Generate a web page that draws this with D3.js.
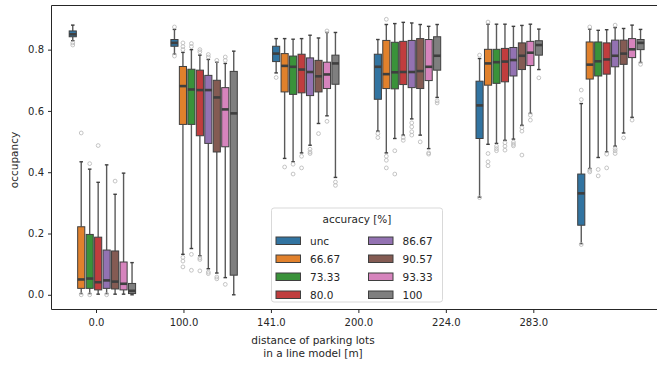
<!DOCTYPE html>
<html>
<head>
<meta charset="utf-8">
<script src="https://cdn.jsdelivr.net/npm/d3@7"></script>
<style>
  body { margin: 0; background: #fff; }
  svg text { font-family: "DejaVu Sans", sans-serif; fill: #262626; }
</style>
</head>
<body>
<div id="chart"></div>
<script>
// categories on the x axis and the hue levels
var distances = ['0.0', '100.0', '141.0', '200.0', '224.0', '283.0'];
var accuracies = ['unc', '66.67', '73.33', '80.0', '86.67', '90.57', '93.33', '100'];
var hueColors = ['#3274a1', '#e1812c', '#3a923a', '#c03d3e', '#9372b2', '#845b53', '#d684bd', '#7f7f7f'];
var yTicks = [0.0, 0.2, 0.4, 0.6, 0.8];

// box statistics, one row per distance, one value per accuracy level
var whiskerLow = [
	[0.829, 0.004, 0.004, 0.002, 0.004, 0.002, 0.002, 0.0],
	[0.785, 0.132, 0.151, 0.127, 0.085, 0.071, 0.056, 0.0],
	[0.724, 0.445, 0.434, 0.463, 0.488, 0.559, 0.584, 0.383],
	[0.534, 0.463, 0.510, 0.521, 0.574, 0.521, 0.477, 0.644],
	[0.319, 0.491, 0.494, 0.504, 0.508, 0.553, 0.592, 0.735],
	[0.167, 0.412, 0.448, 0.466, 0.485, 0.528, 0.579, 0.758]
];
var q1 = [
	[0.842, 0.021, 0.021, 0.016, 0.021, 0.019, 0.016, 0.004],
	[0.811, 0.556, 0.556, 0.519, 0.494, 0.466, 0.483, 0.064],
	[0.761, 0.662, 0.654, 0.659, 0.650, 0.662, 0.673, 0.687],
	[0.638, 0.673, 0.672, 0.686, 0.676, 0.673, 0.699, 0.733],
	[0.510, 0.684, 0.690, 0.695, 0.714, 0.735, 0.748, 0.782],
	[0.227, 0.704, 0.714, 0.720, 0.744, 0.752, 0.774, 0.800]
];
var medians = [
	[0.850, 0.050, 0.053, 0.041, 0.047, 0.043, 0.036, 0.013],
	[0.822, 0.681, 0.670, 0.668, 0.668, 0.644, 0.605, 0.592],
	[0.787, 0.747, 0.744, 0.735, 0.727, 0.713, 0.719, 0.755],
	[0.744, 0.720, 0.726, 0.727, 0.727, 0.730, 0.744, 0.780],
	[0.618, 0.755, 0.759, 0.761, 0.766, 0.780, 0.790, 0.815],
	[0.331, 0.751, 0.762, 0.768, 0.780, 0.787, 0.801, 0.822]
];
var q3 = [
	[0.861, 0.222, 0.197, 0.188, 0.146, 0.143, 0.107, 0.037],
	[0.833, 0.745, 0.736, 0.733, 0.716, 0.700, 0.676, 0.729],
	[0.811, 0.787, 0.779, 0.785, 0.773, 0.765, 0.759, 0.782],
	[0.785, 0.830, 0.824, 0.827, 0.830, 0.836, 0.833, 0.842],
	[0.697, 0.801, 0.801, 0.804, 0.807, 0.822, 0.827, 0.829],
	[0.394, 0.825, 0.825, 0.822, 0.831, 0.831, 0.836, 0.833]
];
var whiskerHigh = [
	[0.880, 0.434, 0.410, 0.367, 0.424, 0.328, 0.397, 0.105],
	[0.866, 0.791, 0.800, 0.782, 0.768, 0.759, 0.755, 0.795],
	[0.836, 0.836, 0.834, 0.836, 0.847, 0.838, 0.856, 0.856],
	[0.833, 0.882, 0.885, 0.889, 0.887, 0.882, 0.876, 0.882],
	[0.771, 0.883, 0.883, 0.883, 0.876, 0.879, 0.883, 0.867],
	[0.624, 0.867, 0.863, 0.865, 0.872, 0.869, 0.880, 0.866]
];
var fliers = [
	[[0.822, 0.815], [0.528, 0.0], [0.428, 0.0], [0.487], [0.0], [0.371], [], []],
	[[0.874, 0.779], [0.822, 0.810, 0.800, 0.122, 0.110, 0.091], [0.820, 0.810, 0.132, 0.080],
	 [0.800, 0.793, 0.120, 0.115, 0.078], [0.784, 0.776, 0.074, 0.069], [0.765, 0.058, 0.052],
	 [0.776, 0.765, 0.034], []],
	[[0.709], [0.417], [0.426, 0.394], [0.452, 0.414], [0.475, 0.466, 0.461], [0.526],
	 [0.566, 0.861], [0.368, 0.357]],
	[[0.526, 0.513], [0.899, 0.452, 0.439, 0.414], [0.470, 0.394], [0.513, 0.504],
	 [0.561, 0.548, 0.532, 0.521], [0.499], [0.463, 0.459], [0.633, 0.626]],
	[[0.782, 0.317], [0.890, 0.461, 0.434, 0.421], [0.485, 0.477, 0.470], [0.496, 0.485, 0.472],
	 [0.498, 0.491, 0.486], [0.545, 0.534, 0.456], [0.586, 0.570], [0.708]],
	[[0.668, 0.637, 0.164], [0.874, 0.406, 0.401], [0.409, 0.388], [0.459, 0.414],
	 [0.880, 0.477, 0.470, 0.461], [0.512], [0.570], [0.752]]
];

function drawChart() {
	var width = 657, height = 365;
	var left = 51.5, top = 5.5, bottom = 309.5;
	var lineColor = '#3f3f3f';

	var svg = d3.select('#chart').append('svg')
		.attr('width', width)
		.attr('height', height);

	// group positions of the boxes, hue offsets inside a group
	var groupX = d3.scaleBand().domain(distances).range([51.55, 661.75]);
	var hueX = d3.scaleBand().domain(accuracies).range([-33.2, 33.2]).paddingInner(0.16);
	// tick positions of the x axis
	var tickX = d3.scalePoint().domain(distances).range([96, 533.3]);
	var y = d3.scaleLinear().domain([-0.048, 0.944]).range([bottom, top]);

	var boxes = [];
	distances.forEach(function(dist, g) {
		accuracies.forEach(function(acc, h) {
			boxes.push({
				dist: dist, acc: acc, color: hueColors[h],
				lo: whiskerLow[g][h], q1: q1[g][h], med: medians[g][h],
				q3: q3[g][h], hi: whiskerHigh[g][h], fliers: fliers[g][h]
			});
		});
	});

	function cx(d) {
		return groupX(d.dist) + groupX.bandwidth() / 2 + hueX(d.acc) + hueX.bandwidth() / 2;
	}
	var bw = hueX.bandwidth();

	var plot = svg.append('g');

	var box = plot.selectAll('.box')
		.data(boxes)
		.enter()
		.append('g')
			.attr('class', 'box');

	// whiskers
	box.append('line')
		.attr('x1', cx).attr('x2', cx)
		.attr('y1', function(d) { return y(d.hi); })
		.attr('y2', function(d) { return y(d.q3); })
		.style('stroke', '#5a5a5a').style('stroke-width', 1.4);
	box.append('line')
		.attr('x1', cx).attr('x2', cx)
		.attr('y1', function(d) { return y(d.q1); })
		.attr('y2', function(d) { return y(d.lo); })
		.style('stroke', '#5a5a5a').style('stroke-width', 1.4);
	// caps
	box.selectAll('.cap')
		.data(function(d) { return [d, d]; })
		.enter()
		.append('line')
			.attr('x1', function(d) { return cx(d) - bw / 4; })
			.attr('x2', function(d) { return cx(d) + bw / 4; })
			.attr('y1', function(d, i) { return y(i ? d.lo : d.hi); })
			.attr('y2', function(d, i) { return y(i ? d.lo : d.hi); })
			.style('stroke', lineColor).style('stroke-width', 1.4);

	// box bodies
	box.append('rect')
		.attr('x', function(d) { return cx(d) - bw / 2; })
		.attr('width', bw)
		.attr('y', function(d) { return y(d.q3); })
		.attr('height', function(d) { return Math.max(1, y(d.q1) - y(d.q3)); })
		.style('fill', function(d) { return d.color; })
		.style('stroke', lineColor)
		.style('stroke-width', 1);

	// medians
	box.append('line')
		.attr('x1', function(d) { return cx(d) - bw / 2; })
		.attr('x2', function(d) { return cx(d) + bw / 2; })
		.attr('y1', function(d) { return y(d.med); })
		.attr('y2', function(d) { return y(d.med); })
		.style('stroke', lineColor)
		.style('stroke-width', 2.6);

	// outliers
	box.selectAll('.flier')
		.data(function(d) { return d.fliers.map(function(v) { return {v: v, d: d}; }); })
		.enter()
		.append('circle')
			.attr('class', 'flier')
			.attr('cx', function(f) { return cx(f.d); })
			.attr('cy', function(f) { return y(f.v); })
			.attr('r', 1.9)
			.style('fill', 'none')
			.style('stroke', '#bdbdbd')
			.style('stroke-width', 0.9);

	// spines
	svg.append('line').attr('x1', left).attr('x2', left).attr('y1', top).attr('y2', bottom)
		.style('stroke', '#262626').style('stroke-width', 1);
	svg.append('line').attr('x1', left).attr('x2', width).attr('y1', top).attr('y2', top)
		.style('stroke', '#262626').style('stroke-width', 1);
	svg.append('line').attr('x1', left).attr('x2', width).attr('y1', bottom).attr('y2', bottom)
		.style('stroke', '#262626').style('stroke-width', 1);

	// axes
	var xAxis = svg.append('g')
		.attr('transform', 'translate(0,' + bottom + ')')
		.call(d3.axisBottom(tickX).tickSize(3.5).tickPadding(6));
	var yAxis = svg.append('g')
		.attr('transform', 'translate(' + left + ',0)')
		.call(d3.axisLeft(y).tickValues(yTicks).tickFormat(d3.format('.1f')).tickSize(3.5).tickPadding(4));
	[xAxis, yAxis].forEach(function(a) {
		a.select('.domain').remove();
		a.selectAll('line').style('stroke', '#262626');
		a.selectAll('text').style('font-size', '10px').style('font-family', '"DejaVu Sans", sans-serif');
	});

	// axis labels
	svg.append('text')
		.attr('transform', 'translate(14,160) rotate(-90)')
		.attr('text-anchor', 'middle')
		.attr('dy', '0.35em')
		.style('font-size', '10.5px')
		.text('occupancy');
	var xl = svg.append('text')
		.attr('x', 313).attr('y', 344)
		.attr('text-anchor', 'middle')
		.style('font-size', '10.5px');
	xl.append('tspan').attr('x', 313).attr('y', 344).text('distance of parking lots');
	xl.append('tspan').attr('x', 313).attr('y', 357).text('in a line model [m]');

	// legend
	var legend = svg.append('g').attr('transform', 'translate(271.5,208)');
	legend.append('rect')
		.attr('width', 171).attr('height', 94).attr('rx', 2.5)
		.style('fill', 'rgba(255,255,255,0.8)')
		.style('stroke', '#d9d9d9');
	legend.append('text')
		.attr('x', 85.5).attr('y', 15)
		.attr('text-anchor', 'middle')
		.style('font-size', '10.5px')
		.text('accuracy [%]');
	var item = legend.selectAll('.item')
		.data(accuracies)
		.enter()
		.append('g')
			.attr('class', 'item')
			.attr('transform', function(d, i) {
				return 'translate(' + (i < 4 ? 4.5 : 97) + ',' + (29 + (i % 4) * 18) + ')';
			});
	item.append('rect')
		.attr('width', 24.5).attr('height', 7.5)
		.style('fill', function(d, i) { return hueColors[i]; })
		.style('stroke', lineColor)
		.style('stroke-width', 1);
	item.append('text')
		.attr('x', 34).attr('y', 4)
		.attr('dy', '0.35em')
		.style('font-size', '10.5px')
		.text(function(d) { return d; });
}

drawChart();
</script>
</body>
</html>
